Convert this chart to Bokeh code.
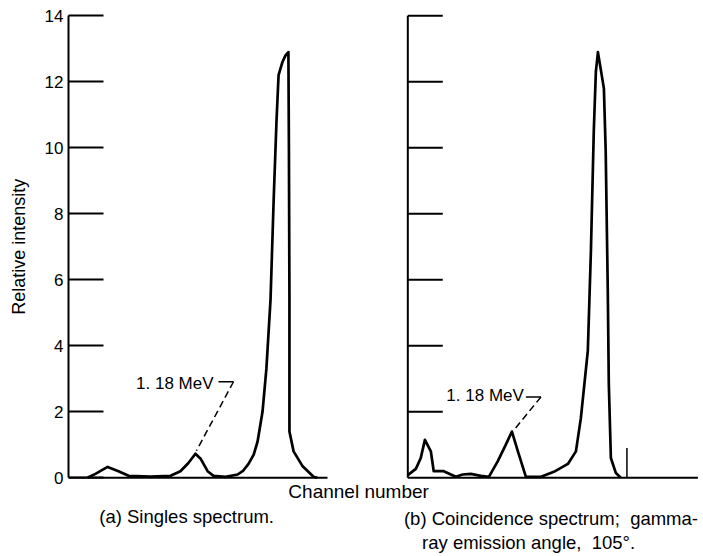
import math

from bokeh.plotting import figure
from bokeh.layouts import row
from bokeh.models import Range1d, FixedTicker, Label
from bokeh.embed import file_html
from bokeh.resources import INLINE

# ---- data -------------------------------------------------------------
# (a) Singles spectrum: channel number vs relative intensity
a_channel = [7.3, 10.4, 15.1, 19.3, 23.2, 31.7, 39.4, 43.2, 46.3, 49.0, 51.0,
             53.7, 56.0, 60.6, 65.3, 67.5, 69.5, 71.5, 73.0, 74.9, 76.4, 78.0,
             79.2, 80.3, 81.1, 82.6, 83.8, 84.9, 85.1, 85.3, 85.3, 86.9, 90.3,
             94.6, 96.1]
a_intensity = [0.0, 0.12, 0.33, 0.2, 0.06, 0.04, 0.06, 0.2, 0.45, 0.73, 0.58,
               0.2, 0.06, 0.03, 0.1, 0.22, 0.42, 0.7, 1.1, 2.0, 3.3, 5.4,
               8.4, 10.8, 12.2, 12.6, 12.8, 12.9, 9.9, 5.4, 1.4, 0.8, 0.36,
               0.03, 0.0]

# (b) Coincidence spectrum, gamma-ray emission angle 105 deg
b_channel = [0.0, 3.1, 5.0, 6.6, 8.9, 10.0, 13.9, 16.6, 18.5, 21.2, 24.3,
             28.2, 31.3, 34.7, 37.8, 40.2, 42.5, 45.6, 51.4, 56.4, 61.8, 64.9,
             66.8, 69.5, 70.7, 71.8, 72.6, 73.4, 75.7, 76.4, 77.2, 77.6, 78.4,
             80.3, 82.2]
b_intensity = [0.08, 0.27, 0.6, 1.15, 0.8, 0.2, 0.2, 0.1, 0.03, 0.1, 0.12,
               0.06, 0.03, 0.5, 1.0, 1.4, 0.8, 0.03, 0.03, 0.18, 0.42, 0.8,
               1.8, 3.85, 6.9, 10.5, 12.3, 12.9, 11.8, 9.9, 5.7, 2.85, 0.6,
               0.15, 0.0]
b_marker_channel = 84.6
b_marker_height = 0.9

y_ticks = [0, 2, 4, 6, 8, 10, 12, 14]
a_extent = [0, 100]
b_extent = [0, 112]

# 1.18 MeV call-outs: (channel, intensity) of text anchor, bar and leader
a_note_xy = (56.0, 2.85)
a_bar_x = [57.9, 63.7]
a_bar_y = [2.91, 2.91]
a_lead_x = [63.7, 49.4]
a_lead_y = [2.91, 0.82]

b_note_xy = (44.8, 2.48)
b_bar_x = [45.6, 51.4]
b_bar_y = [2.45, 2.45]
b_lead_x = [51.4, 41.3]
b_lead_y = [2.45, 1.48]

# ---- layout -----------------------------------------------------------
B_OFF = 131.0          # horizontal offset of panel (b) in channel units
TICK_LEN = 13.5        # panel (b) tick length in channel units
FONT = "Liberation Sans"
NBSP = "\u00a0"
STRIP_W = 32           # width of the strip that carries the y title

y_range = Range1d(-2.385, 14.1)

# spectra; the frame runs to the bottom edge so captions sit inside it,
# while the drawn axis is bounded to 0..14
p = figure(width=703 - STRIP_W, height=556, output_backend="svg",
           toolbar_location=None,
           x_range=Range1d(0, 244), y_range=y_range,
           min_border_left=68 - STRIP_W, min_border_right=3,
           min_border_top=12, min_border_bottom=0)
p.outline_line_color = None
p.grid.visible = False
p.xaxis.visible = False

yax = p.yaxis[0]
yax.bounds = (0, 14)
yax.ticker = FixedTicker(ticks=y_ticks)
yax.major_tick_in = 35
yax.major_tick_out = 0
yax.minor_tick_line_color = None
yax.axis_line_width = 2
yax.major_tick_line_width = 2
yax.axis_line_color = "black"
yax.major_tick_line_color = "black"
yax.major_label_standoff = 5
yax.major_label_text_font = FONT
yax.major_label_text_font_size = "17px"
yax.major_label_text_color = "black"

# panel (a)
p.line(a_extent, [0, 0], line_color="black", line_width=2)
p.line(a_channel, a_intensity, line_color="black", line_width=2.7,
       line_join="round")

# panel (b): its own vertical scale drawn with the same y ticks
bx = [c + B_OFF for c in b_channel]
p.segment(x0=[B_OFF], y0=[0], x1=[B_OFF], y1=[max(y_ticks)],
          line_color="black", line_width=2)
tk = [t for t in y_ticks if t > 0]
p.segment(x0=[B_OFF] * len(tk), y0=tk, x1=[B_OFF + TICK_LEN] * len(tk), y1=tk,
          line_color="black", line_width=2)
p.line([e + B_OFF for e in b_extent], [0, 0], line_color="black", line_width=2)
p.line(bx, b_intensity, line_color="black", line_width=2.7, line_join="round")
p.segment(x0=[b_marker_channel + B_OFF], y0=[0],
          x1=[b_marker_channel + B_OFF], y1=[b_marker_height],
          line_color="black", line_width=1.5)

# 1.18 MeV call-outs
p.line(a_bar_x, a_bar_y, line_color="black", line_width=1.5)
p.line(a_lead_x, a_lead_y, line_color="black", line_width=1.5, line_dash="7 4")
p.line([x + B_OFF for x in b_bar_x], b_bar_y, line_color="black", line_width=1.5)
p.line([x + B_OFF for x in b_lead_x], b_lead_y, line_color="black",
       line_width=1.5, line_dash="7 4")


def note(fig, x, y, text, size="17px", align="right", angle=0.0):
    fig.add_layout(Label(x=x, y=y, text=text, text_font=FONT,
                         text_font_size=size, text_color="black",
                         text_align=align, text_baseline="middle",
                         angle=angle))


note(p, a_note_xy[0], a_note_xy[1], "1. 18 MeV")
note(p, b_note_xy[0] + B_OFF, b_note_xy[1], "1. 18 MeV")

# shared axis title and panel captions
note(p, 112.0, -0.43, "Channel number", size="19px", align="center")
note(p, 45.6, -1.17, "(a) Singles spectrum.", size="18.5px", align="center")
note(p, B_OFF - 1.5, -1.24, f"(b) Coincidence spectrum;{NBSP} gamma-",
     size="18.5px", align="left")
note(p, B_OFF + 5.5, -1.96, f"ray emission angle,{NBSP} 105\u00b0.",
     size="18.5px", align="left")

# narrow strip on the left holding the y-axis title, centred on 0..14
s = figure(width=STRIP_W, height=556, output_backend="svg",
           toolbar_location=None,
           x_range=Range1d(0, STRIP_W), y_range=y_range,
           min_border_left=0, min_border_right=0,
           min_border_top=12, min_border_bottom=0)
s.outline_line_color = None
s.grid.visible = False
s.axis.visible = False
note(s, 18, (y_ticks[0] + y_ticks[-1]) / 2, "Relative intensity",
     size="18px", align="center", angle=math.pi / 2)

open("out.html", "w").write(file_html(row(s, p, spacing=0), INLINE))
